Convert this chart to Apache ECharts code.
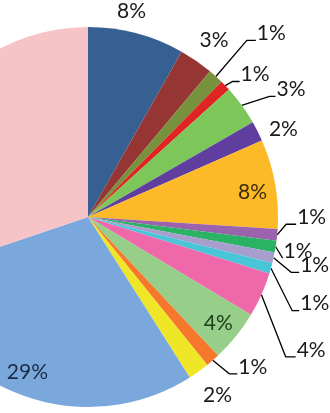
<!DOCTYPE html>
<html>
<head>
<meta charset="utf-8">
<script src="https://cdn.jsdelivr.net/npm/echarts@6/dist/echarts.min.js"></script>
<style>
  html, body { margin: 0; padding: 0; background: #fff; }
  #chart { width: 330px; height: 413px; }
</style>
</head>
<body>
<div id="chart"></div>
<script>
// slice names, values (percent) and colours, clockwise from 12 o'clock
const categories = ['S1', 'S2', 'S3', 'S4', 'S5', 'S6', 'S7', 'S8', 'S9',
  'S10', 'S11', 'S12', 'S13', 'S14', 'S15', 'S16', 'S17']
const values = [8.2, 2.9, 1.3, 0.9, 3.4, 1.7, 7.6, 1.0, 1.0,
  0.9, 0.9, 3.8, 4.4, 1.2, 1.8, 28.8, 30.2]
const colors = ['#376092', '#963634', '#76923c', '#e02424', '#7dc65a', '#603ea0',
  '#fdba28', '#9b62ae', '#2cb264', '#a89ece', '#48c6d8', '#ee68aa', '#96ce8a',
  '#f5782c', '#f0e628', '#7aa8dc', '#f6c3c7']

// label placement (Excel "best fit" look): default length / length2 and a nudge
const labelSetup = [
  { pos: 'outside', line: false, len: 22, len2: 0, dx: -30, dy: -1 },
  { pos: 'outside', line: false, len: 25, len2: 0, dx: -16, dy: 0 },
  { pos: 'outside', line: true, len: 46, len2: 7, elbow: 9, dx: -2, dy: -9 },
  { pos: 'outside', line: true, len: 6, len2: 6, elbow: 7, dx: 0, dy: -7 },
  { pos: 'outside', line: true, len: 22, len2: 10, elbow: 6, dx: 2, dy: -3 },
  { pos: 'outside', line: false, len: 6, len2: 0, dx: 1, dy: 1 },
  { pos: 'inside', color: '#3a2c0c', dx: 68, dy: -8 },
  { pos: 'outside', line: true, len: 4, len2: 10, elbow: 10, dx: 1, dy: -18 },
  { pos: 'outside', line: true, len: 3, len2: 0, elbow: 0, dx: 0, dy: 4 },
  { pos: 'outside', line: true, len: 16, len2: 6, elbow: 8, dx: 0, dy: 4 },
  { pos: 'outside', line: true, len: 20, len2: 10, elbow: 7, dx: -5, dy: 30 },
  { pos: 'outside', line: true, len: 20, len2: 10, elbow: 10, dx: 2, dy: 47 },
  { pos: 'inside', color: '#1c3d1c', dx: 54, dy: 45 },
  { pos: 'outside', line: true, len: 10, len2: 12, elbow: 8, dx: 2, dy: -1 },
  { pos: 'outside', line: false, len: 28, len2: 0, dx: -17, dy: 1 },
  { pos: 'inside', color: '#1b2b45', dx: -28, dy: 63 },
  null
]

const total = values.reduce((a, b) => a + b, 0)

const seriesData = values.map((v, i) => {
  const s = labelSetup[i]
  const item = { name: categories[i], value: v, itemStyle: { color: colors[i] } }
  if (!s) {
    item.label = { show: false }
    item.labelLine = { show: false }
    return item
  }
  item.label = { position: s.pos, color: s.color || '#1a1a1a' }
  item.labelLine = { show: !!s.line, length: s.len || 0, length2: s.len2 || 0 }
  return item
})

const myChart = echarts.init(document.getElementById('chart'))

const options = {
  animation: false,
  series: [{
    type: 'pie',
    center: [88, 217],
    radius: 190,
    startAngle: 90,
    clockwise: true,
    avoidLabelOverlap: false,
    label: {
      fontFamily: 'Lato',
      fontSize: 21,
      distanceToLabelLine: 5,
      overflow: 'none',
      formatter: p => Math.round(p.value / total * 100) + '%'
    },
    labelLine: {
      lineStyle: { color: '#000', width: 1.3 }
    },
    labelLayout: function (params) {
      const s = labelSetup[params.dataIndex]
      if (!s) return
      const rect = params.labelRect
      const ax = params.align === 'center' ? rect.x + rect.width / 2 : rect.x
      const x = ax + s.dx
      const y = rect.y + rect.height / 2 + s.dy
      const out = { x: x, y: y }
      if (s.line && params.labelLinePoints) {
        const p0 = params.labelLinePoints[0]
        const ex = x - 1
        const ey = y + 7
        out.labelLinePoints = [p0, [ex - s.elbow, ey], [ex, ey]]
      }
      return out
    },
    data: seriesData
  }]
}
myChart.setOption(options)
</script>
</body>
</html>
